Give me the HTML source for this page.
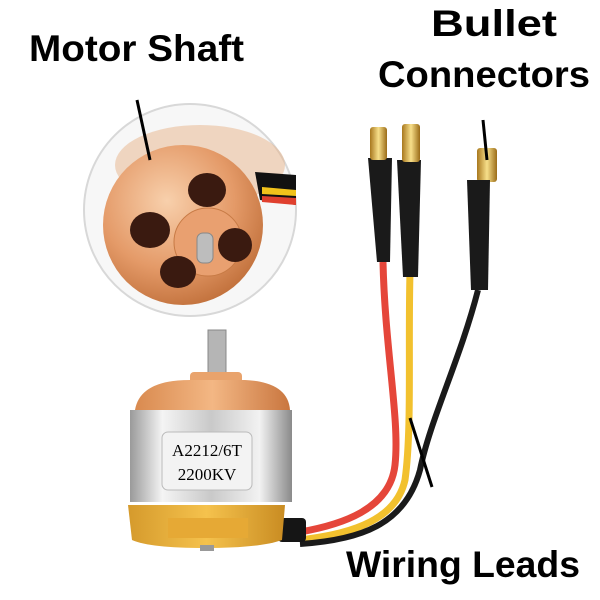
<!DOCTYPE html>
<html><head><style>
html,body{margin:0;padding:0;background:#fff;}
svg{display:block}
text{font-family:"Liberation Sans",sans-serif;font-weight:bold;fill:#000}
</style></head><body>
<svg width="600" height="600" viewBox="0 0 600 600">
<defs>
<radialGradient id="cop" cx="0.4" cy="0.35" r="0.7"><stop offset="0" stop-color="#f8d0ac"/><stop offset="0.6" stop-color="#e49a68"/><stop offset="1" stop-color="#c06f3a"/></radialGradient>
<linearGradient id="sil" x1="0" x2="1"><stop offset="0" stop-color="#9a9a9a"/><stop offset="0.2" stop-color="#f4f4f4"/><stop offset="0.5" stop-color="#c9c9c9"/><stop offset="0.8" stop-color="#f2f2f2"/><stop offset="1" stop-color="#8a8a8a"/></linearGradient>
<linearGradient id="gold" x1="0" x2="1"><stop offset="0" stop-color="#d59a2c"/><stop offset="0.5" stop-color="#f5c24d"/><stop offset="1" stop-color="#c98c22"/></linearGradient>
<linearGradient id="topc" x1="0" x2="1"><stop offset="0" stop-color="#d98a4f"/><stop offset="0.5" stop-color="#f3b784"/><stop offset="1" stop-color="#c9763f"/></linearGradient>
<linearGradient id="bul" x1="0" x2="1"><stop offset="0" stop-color="#a8781e"/><stop offset="0.5" stop-color="#f7df8a"/><stop offset="1" stop-color="#9b6c18"/></linearGradient>
</defs>
<circle cx="190" cy="210" r="106" fill="#f7f7f7" stroke="#d8d8d8" stroke-width="2"/>
<ellipse cx="200" cy="165" rx="85" ry="40" fill="#e8b48a" opacity="0.5"/>
<path d="M255 172 L296 175 L296 205 L260 200 Z" fill="#111"/>
<path d="M262 187 L296 190 L296 196 L262 194 Z" fill="#f1c21b"/>
<path d="M262 196 L296 198 L296 205 L262 202 Z" fill="#e0402e"/>
<circle cx="183" cy="225" r="80" fill="url(#cop)"/>
<circle cx="208" cy="242" r="34" fill="#e9a070" stroke="#c77a45"/>
<ellipse cx="207" cy="190" rx="19" ry="17" fill="#3a1a10"/>
<ellipse cx="150" cy="230" rx="20" ry="18" fill="#3a1a10"/>
<ellipse cx="235" cy="245" rx="17" ry="17" fill="#3a1a10"/>
<ellipse cx="178" cy="272" rx="18" ry="16" fill="#3a1a10"/>
<rect x="197" y="233" width="16" height="30" rx="6" fill="#bdbdbd" stroke="#888"/>
<path d="M383 262 C385 350 400 420 395 465 C390 510 340 525 300 532" fill="none" stroke="#e5463a" stroke-width="7"/>
<path d="M410 272 C408 350 412 430 405 480 C395 525 340 535 300 540" fill="none" stroke="#f2c12e" stroke-width="7"/>
<path d="M478 290 C460 360 430 420 420 470 C405 525 360 540 300 544" fill="none" stroke="#1a1a1a" stroke-width="6"/>
<rect x="278" y="518" width="28" height="24" rx="4" fill="#151515"/>
<path d="M368 158 L392 158 L390 262 L377 262 Z" fill="#1a1a1a"/>
<rect x="370" y="127" width="17" height="33" rx="3" fill="url(#bul)"/>
<path d="M397 160 L421 160 L418 277 L403 277 Z" fill="#1a1a1a"/>
<rect x="402" y="124" width="18" height="38" rx="3" fill="url(#bul)"/>
<rect x="477" y="148" width="20" height="34" rx="3" fill="url(#bul)"/>
<path d="M467 180 L490 180 L488 290 L471 290 Z" fill="#1a1a1a"/>
<rect x="208" y="330" width="18" height="50" fill="#b5b5b5" stroke="#888"/>
<rect x="190" y="372" width="52" height="18" rx="4" fill="#e9a36c"/>
<path d="M135 410 Q140 380 190 380 L245 380 Q288 382 290 410 Z" fill="url(#topc)"/>
<rect x="130" y="410" width="162" height="92" fill="url(#sil)"/>
<rect x="162" y="432" width="90" height="58" rx="6" fill="#f3f3f3" stroke="#bbb"/>
<text x="207" y="456" text-anchor="middle" style="font-family:'Liberation Serif',serif;font-weight:normal;font-size:17px">A2212/6T</text>
<text x="207" y="480" text-anchor="middle" style="font-family:'Liberation Serif',serif;font-weight:normal;font-size:17px">2200KV</text>
<path d="M128 505 L285 505 L282 540 Q260 548 205 548 Q150 548 132 540 Z" fill="url(#gold)"/>
<rect x="168" y="518" width="80" height="20" fill="#e6a935"/>
<rect x="200" y="545" width="14" height="6" fill="#999"/>
<line x1="137" y1="100" x2="150" y2="160" stroke="#000" stroke-width="3"/>
<line x1="483" y1="120" x2="487" y2="160" stroke="#000" stroke-width="3"/>
<line x1="410" y1="418" x2="432" y2="487" stroke="#000" stroke-width="3"/>
<text x="29" y="61" font-size="37" textLength="215" lengthAdjust="spacingAndGlyphs">Motor Shaft</text>
<text x="431" y="36" font-size="37" textLength="126" lengthAdjust="spacingAndGlyphs">Bullet</text>
<text x="378" y="87" font-size="37" textLength="212" lengthAdjust="spacingAndGlyphs">Connectors</text>
<text x="346" y="577" font-size="37" textLength="234" lengthAdjust="spacingAndGlyphs">Wiring Leads</text>
</svg>
</body></html>
